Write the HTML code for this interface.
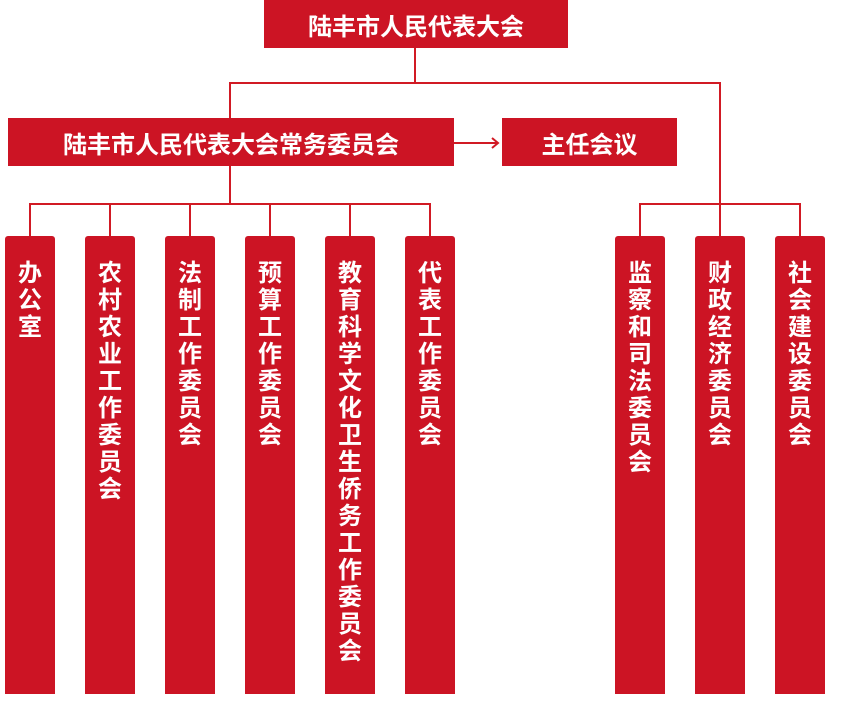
<!DOCTYPE html>
<html><head><meta charset="utf-8"><style>
html,body{margin:0;width:848px;height:717px;background:#fff;position:relative;overflow:hidden;font-family:"Liberation Sans","Noto Sans CJK SC",sans-serif;}
.b{position:absolute;background:#cc1424;color:#fff;font-weight:bold;display:flex;align-items:center;justify-content:center;font-size:24px;}
.l{position:absolute;background:#d11a24;}
.c{position:absolute;background:#cc1424;color:#fff;font-weight:bold;width:50px;top:236px;height:458px;border-radius:3px 3px 0 0;font-size:24px;line-height:27px;text-align:center;padding-top:24px;box-sizing:border-box;}
.c span{display:block;width:25px;margin:0 auto;word-break:break-all;}
</style></head><body>
<div class="b" style="left:264px;top:0;width:304px;height:48px;">陆丰市人民代表大会</div>
<div class="l" style="left:414px;top:48px;width:2px;height:36px;"></div>
<div class="l" style="left:229px;top:82px;width:492px;height:2px;"></div>
<div class="l" style="left:229px;top:82px;width:2px;height:36px;"></div>
<div class="l" style="left:719px;top:82px;width:2px;height:154px;"></div>
<div class="b" style="left:8px;top:118px;width:446px;height:48px;">陆丰市人民代表大会常务委员会</div>
<div class="l" style="left:454px;top:142px;width:44px;height:2px;"></div>
<svg style="position:absolute;left:490px;top:137px" width="12" height="12"><path d="M2 1 L8 6 L2 11" stroke="#d11a24" stroke-width="2" fill="none"/></svg>
<div class="b" style="left:502px;top:118px;width:175px;height:48px;">主任会议</div>
<div class="l" style="left:229px;top:166px;width:2px;height:38px;"></div>
<div class="l" style="left:29px;top:203px;width:402px;height:2px;"></div>
<div class="l" style="left:639px;top:203px;width:162px;height:2px;"></div>
<div class="l" style="left:29px;top:203px;width:2px;height:33px;"></div>
<div class="l" style="left:109px;top:203px;width:2px;height:33px;"></div>
<div class="l" style="left:189px;top:203px;width:2px;height:33px;"></div>
<div class="l" style="left:269px;top:203px;width:2px;height:33px;"></div>
<div class="l" style="left:349px;top:203px;width:2px;height:33px;"></div>
<div class="l" style="left:429px;top:203px;width:2px;height:33px;"></div>
<div class="l" style="left:639px;top:203px;width:2px;height:33px;"></div>
<div class="l" style="left:799px;top:203px;width:2px;height:33px;"></div>
<div class="c" style="left:5px"><span>办公室</span></div>
<div class="c" style="left:85px"><span>农村农业工作委员会</span></div>
<div class="c" style="left:165px"><span>法制工作委员会</span></div>
<div class="c" style="left:245px"><span>预算工作委员会</span></div>
<div class="c" style="left:325px"><span>教育科学文化卫生侨务工作委员会</span></div>
<div class="c" style="left:405px"><span>代表工作委员会</span></div>
<div class="c" style="left:615px"><span>监察和司法委员会</span></div>
<div class="c" style="left:695px"><span>财政经济委员会</span></div>
<div class="c" style="left:775px"><span>社会建设委员会</span></div>
</body></html>
